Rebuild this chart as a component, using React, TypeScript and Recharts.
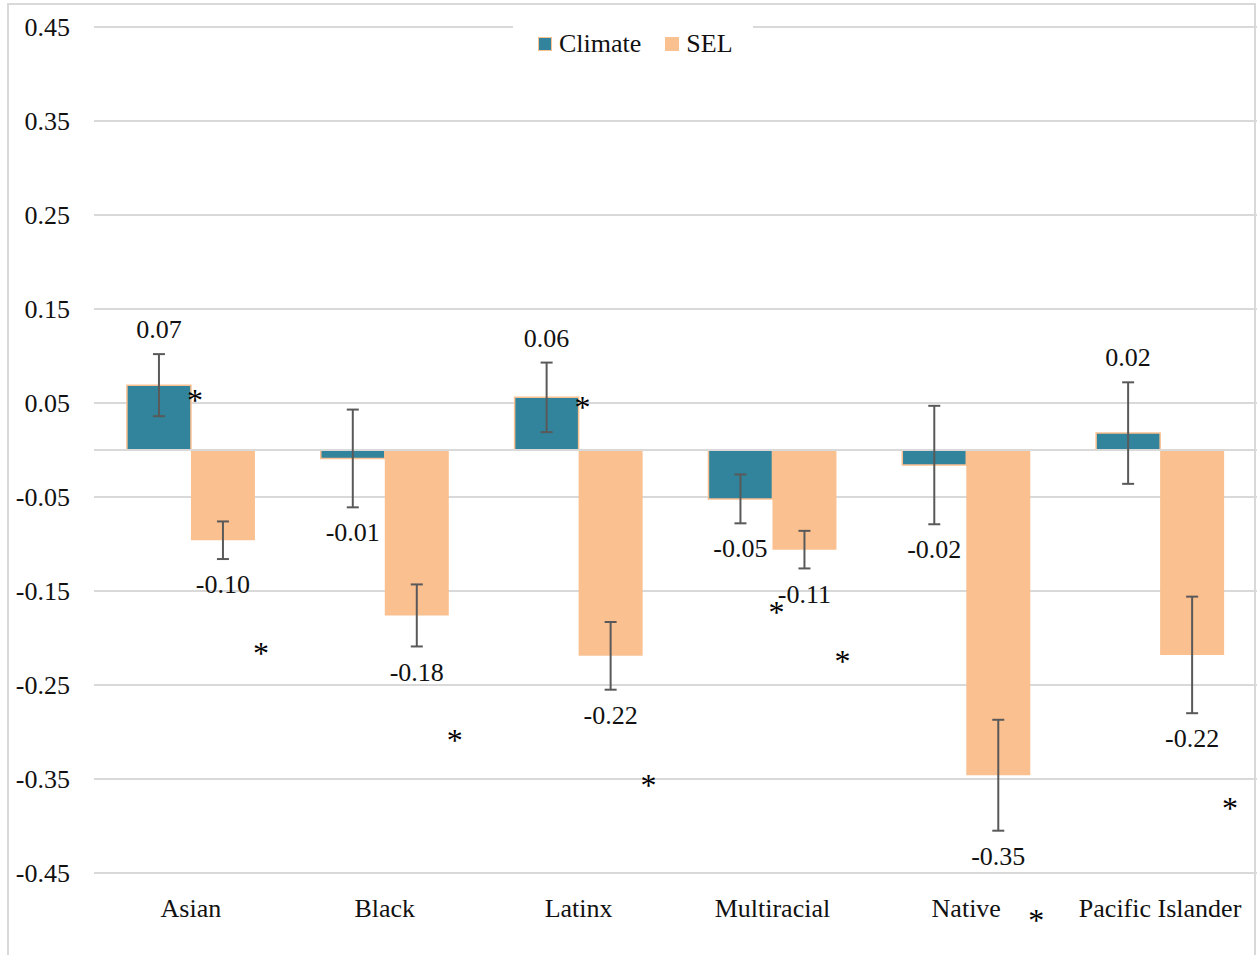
import React from 'react';
import { BarChart, Bar, XAxis, YAxis, CartesianGrid, ErrorBar, LabelList, ReferenceLine, Legend } from 'recharts';

const categories = ['Asian', 'Black', 'Latinx', 'Multiracial', 'Native', 'Pacific Islander'];
const climate = [0.069, -0.009, 0.056, -0.052, -0.016, 0.018];
const climateErr = [0.033, 0.052, 0.037, 0.026, 0.063, 0.054];
const sel = [-0.096, -0.176, -0.219, -0.106, -0.346, -0.218];
const selErr = [0.020, 0.033, 0.036, 0.020, 0.059, 0.062];
// vertical position (in axis units) of the significance asterisks
const climateStar: (number | null)[] = [0.0585, null, 0.051, -0.167, null, null];
const selStar: (number | null)[] = [-0.211, -0.303, -0.351, -0.219, -0.495, -0.376];
const yTicks = [0.45, 0.35, 0.25, 0.15, 0.05, -0.05, -0.15, -0.25, -0.35, -0.45];

const CLIMATE_COLOR = '#31849B';
const SEL_COLOR = '#FAC090';
const FONT = '"Liberation Serif", "Times New Roman", serif';
const TEXT = '#111';

const data = categories.map((c, i) => ({
  category: c,
  climate: climate[i],
  sel: sel[i],
  climateErr: climateErr[i],
  selErr: selErr[i],
}));

function geom(props: any, vals: number[]) {
  const vb = props.viewBox && props.viewBox.width !== undefined ? props.viewBox : props;
  const x = Number(vb.x), y = Number(vb.y), width = Number(vb.width), height = Number(vb.height);
  let idx = props.index;
  if (idx === undefined || idx === null) idx = vals.indexOf(props.value);
  const v = vals[idx];
  const top = Math.min(y, y + height);
  const bottom = Math.max(y, y + height);
  const ppu = (bottom - top) / Math.abs(v);
  const zeroY = v < 0 ? top : bottom;
  return { x, width, idx, v, ppu, zeroY };
}

const makeValueLabel = (vals: number[], errs: number[]) => (props: any) => {
  const { x, width, idx, v, ppu, zeroY } = geom(props, vals);
  if (v === undefined || !isFinite(ppu)) return null;
  const end = v >= 0 ? v + errs[idx] : v - errs[idx];
  const endY = zeroY - end * ppu;
  const cy = v >= 0 ? endY - 25 : endY + 25;
  return (
    <text x={x + width / 2} y={cy} dy="0.35em" textAnchor="middle" fontFamily={FONT} fontSize={26} fill={TEXT}>
      {v.toFixed(2)}
    </text>
  );
};

const makeStarLabel = (vals: number[], stars: (number | null)[], dxOff: number) => (props: any) => {
  const { x, width, idx, v, ppu, zeroY } = geom(props, vals);
  if (v === undefined || !isFinite(ppu)) return null;
  const s = stars[idx];
  if (s === null || s === undefined) return null;
  const sy = zeroY - s * ppu;
  return (
    <text x={x + width + dxOff} y={sy + 16} textAnchor="middle" fontFamily={FONT} fontSize={32} fill="#000">
      *
    </text>
  );
};

const legendItems = [
  { name: 'Climate', color: CLIMATE_COLOR, stroke: SEL_COLOR },
  { name: 'SEL', color: SEL_COLOR, stroke: SEL_COLOR },
];

const LegendContent = () => (
  <div style={{ display: 'flex', alignItems: 'center', height: '100%', paddingLeft: 25, background: '#fff', fontFamily: FONT, fontSize: 26, color: TEXT, boxSizing: 'border-box' }}>
    {legendItems.map((it, i) => (
      <div key={it.name} style={{ display: 'flex', alignItems: 'center', marginRight: i === 0 ? 24 : 0 }}>
        <span style={{ display: 'inline-block', width: 12, height: 12, background: it.color, border: `1.5px solid ${it.stroke}`, marginRight: 7 }} />
        <span>{it.name}</span>
      </div>
    ))}
  </div>
);

export default function App() {
  return (
    <div style={{ position: 'absolute', left: 0, top: 0, width: 1257, height: 955, overflow: 'hidden', background: '#fff' }}>
      <div style={{ position: 'absolute', left: 7, top: 3, width: 1249, height: 1000, border: '2px solid #D9D9D9', boxSizing: 'border-box' }} />
      <div style={{ position: 'absolute', left: 8, top: 4 }}>
        <BarChart
          width={1249}
          height={951}
          data={data}
          margin={{ top: 23, right: 0, left: 0, bottom: 0 }}
          barCategoryGap="17%"
          barGap={0}
        >
          <CartesianGrid vertical={false} stroke="#D9D9D9" strokeWidth={2} />
          <XAxis
            dataKey="category"
            height={82}
            axisLine={false}
            tickLine={false}
            tickMargin={20}
            interval={0}
            tick={{ fontFamily: FONT, fontSize: 26, fill: TEXT }}
          />
          <YAxis
            type="number"
            domain={[-0.45, 0.45]}
            ticks={yTicks}
            width={86}
            axisLine={false}
            tickLine={false}
            tickMargin={18}
            tickFormatter={(v: number) => v.toFixed(2)}
            tick={{ fontFamily: FONT, fontSize: 26, fill: TEXT }}
          />
          <ReferenceLine y={0} stroke="#D9D9D9" strokeWidth={2} />
          <Legend
            layout="horizontal"
            verticalAlign="middle"
            align="center"
            wrapperStyle={{ top: 16, left: 505, width: 240, height: 48 }}
            content={LegendContent}
          />
          <Bar dataKey="climate" name="Climate" fill={CLIMATE_COLOR} stroke={SEL_COLOR} strokeWidth={1.5} isAnimationActive={false}>
            <ErrorBar dataKey="climateErr" direction="y" width={6} strokeWidth={2} stroke="#595959" />
            <LabelList dataKey="climate" content={makeValueLabel(climate, climateErr)} />
            <LabelList dataKey="climate" content={makeStarLabel(climate, climateStar, 4)} />
          </Bar>
          <Bar dataKey="sel" name="SEL" fill={SEL_COLOR} isAnimationActive={false}>
            <ErrorBar dataKey="selErr" direction="y" width={6} strokeWidth={2} stroke="#595959" />
            <LabelList dataKey="sel" content={makeValueLabel(sel, selErr)} />
            <LabelList dataKey="sel" content={makeStarLabel(sel, selStar, 6)} />
          </Bar>
        </BarChart>
      </div>
    </div>
  );
}
